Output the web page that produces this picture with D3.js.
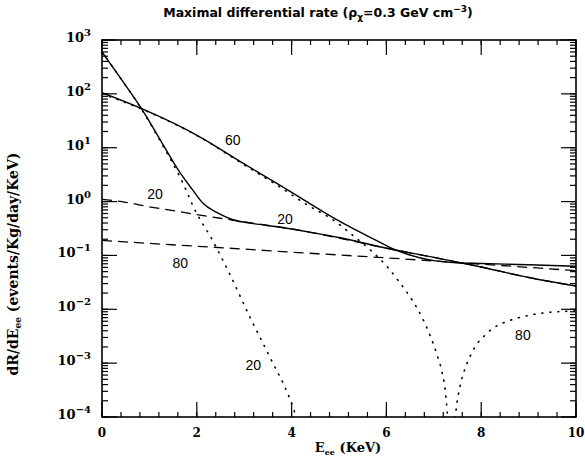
<!DOCTYPE html>
<html>
<head>
<meta charset="utf-8">
<script src="https://cdn.jsdelivr.net/npm/d3@7"></script>
<style>
  body { margin: 0; background: #fff; }
</style>
</head>
<body>
<svg id="chart" width="585" height="459"></svg>
<script>
// [E_ee (keV), dR/dE] pairs
var solid20 = [[0,600],[0.42,180],[0.84,52],[1.25,13],[1.65,3.4],[1.9,1.7],[2.13,0.93],[2.42,0.63],[2.76,0.46],
  [3.2,0.39],[3.69,0.34],[4.5,0.26],[5,0.215],[6,0.136],[7,0.092],[8,0.061],[9,0.039],[10,0.027]];
var dash20 = [[0,1.1],[0.5,0.97],[1,0.8],[1.5,0.68],[2,0.57],[2.5,0.49],[3,0.42],[4,0.31],[5,0.21],
  [6,0.136],[7,0.092],[8,0.061],[9,0.039],[10,0.027]];
var dot20 = [[0,600],[0.42,180],[0.84,51],[1.25,12.3],[1.65,2.8],[2.0,0.6],[2.32,0.2],[2.7,0.044],
  [3.12,0.0072],[3.54,0.0013],[3.97,0.00021],[4.1,0.0001]];

var solid80 = [[0,105],[0.84,53],[2.07,15.8],[3.0,5.0],[3.68,2.2],[4.3,1.02],[4.95,0.46],[5.23,0.34],
  [5.69,0.21],[6.08,0.14],[6.46,0.104],[7,0.08],[7.5,0.073],[8,0.071],[8.5,0.069],[9,0.067],[10,0.063]];
var dash80 = [[0,0.19],[1,0.167],[2,0.148],[3,0.131],[4,0.115],[5,0.102],[6,0.09],[7,0.079],
  [8,0.069],[9,0.06],[10,0.052]];
var dot80 = [[0,100],[0.84,52],[2.07,15.6],[3.0,4.8],[3.68,2.05],[4.3,0.9],[4.95,0.41],[5.23,0.26],
  [5.69,0.12],[6.03,0.06],[6.25,0.034],[6.46,0.019],[6.64,0.0108],[6.78,0.0063],[6.92,0.0033],
  [7.06,0.0015],[7.17,0.0007],[7.24,0.00032],[7.27,0.00017],[7.37,0.00001],[7.47,0.000135],
  [7.55,0.00036],[7.66,0.0008],[7.76,0.0013],[7.9,0.0022],[8.08,0.0033],[8.26,0.0045],[8.47,0.0056],
  [8.75,0.0068],[9.03,0.0078],[9.38,0.0087],[9.73,0.0091],[10,0.0093]];

var xTickLabels = [0, 2, 4, 6, 8, 10];
var yTickExps = [-4, -3, -2, -1, 0, 1, 2, 3];

// curve labels: text, E, rate
var curveLabels = [['60', 2.76, 13.8], ['20', 1.12, 1.38], ['20', 3.86, 0.48],
  ['80', 1.65, 0.072], ['20', 3.19, 0.00093], ['80', 8.88, 0.0033]];

var svg = d3.select('#chart');
var pLeft = 102, pRight = 576, pTop = 40, pBottom = 417;

var x = d3.scaleLinear().domain([0, 10]).range([pLeft, pRight]);
var y = d3.scaleLog().domain([1e-4, 1e3]).range([pBottom, pTop]);

svg.append('clipPath').attr('id', 'plotclip')
  .append('rect')
    .attr('x', pLeft).attr('y', pTop)
    .attr('width', pRight - pLeft).attr('height', pBottom - pTop);

var line = d3.line()
  .x(function(d) { return x(d[0]); })
  .y(function(d) { return y(d[1]); })
  .curve(d3.curveMonotoneX);

var curves = svg.append('g').attr('clip-path', 'url(#plotclip)');

function drawCurve(data, dash, width) {
  curves.append('path')
    .datum(data)
    .attr('d', line)
    .attr('fill', 'none')
    .attr('stroke', '#000')
    .attr('stroke-width', width)
    .attr('stroke-linecap', dash == '1,7' ? 'round' : 'butt')
    .attr('stroke-dasharray', dash);
}

drawCurve(dash20, '10,6', 1.3);
drawCurve(dash80, '10,6', 1.3);
drawCurve(dot20, '1,7', 1.6);
drawCurve(dot80, '1,7', 1.6);
drawCurve(solid20, null, 1.4);
drawCurve(solid80, null, 1.4);

// frame
svg.append('rect')
  .attr('x', pLeft).attr('y', pTop)
  .attr('width', pRight - pLeft).attr('height', pBottom - pTop)
  .attr('fill', 'none').attr('stroke', '#000').attr('stroke-width', 1.6);

// ticks on all four sides
var ticks = svg.append('g').attr('stroke', '#000').attr('stroke-width', 1.2);
var xMinor = d3.range(0, 10.001, 0.4);
var yMinor = y.ticks();

xMinor.forEach(function(v) {
  ticks.append('line').attr('x1', x(v)).attr('x2', x(v)).attr('y1', pBottom).attr('y2', pBottom - 5);
  ticks.append('line').attr('x1', x(v)).attr('x2', x(v)).attr('y1', pTop).attr('y2', pTop + 5);
});
xTickLabels.forEach(function(v) {
  ticks.append('line').attr('x1', x(v)).attr('x2', x(v)).attr('y1', pBottom).attr('y2', pBottom - 15);
  ticks.append('line').attr('x1', x(v)).attr('x2', x(v)).attr('y1', pTop).attr('y2', pTop + 15);
});
yMinor.forEach(function(v) {
  ticks.append('line').attr('x1', pLeft).attr('x2', pLeft + 6).attr('y1', y(v)).attr('y2', y(v));
  ticks.append('line').attr('x1', pRight).attr('x2', pRight - 6).attr('y1', y(v)).attr('y2', y(v));
});
yTickExps.forEach(function(e) {
  var v = Math.pow(10, e);
  ticks.append('line').attr('x1', pLeft).attr('x2', pLeft + 15).attr('y1', y(v)).attr('y2', y(v));
  ticks.append('line').attr('x1', pRight).attr('x2', pRight - 15).attr('y1', y(v)).attr('y2', y(v));
});

var serif = '"DejaVu Serif", serif';

svg.append('g').selectAll('text')
  .data(xTickLabels)
  .enter().append('text')
    .attr('x', function(d) { return x(d); })
    .attr('y', 437)
    .attr('text-anchor', 'middle')
    .style('font', 'bold 12px ' + serif)
    .text(function(d) { return d; });

var yl = svg.append('g').selectAll('text')
  .data(yTickExps)
  .enter().append('text')
    .attr('x', 91)
    .attr('y', function(d) { return y(Math.pow(10, d)) + 2; })
    .attr('text-anchor', 'end')
    .style('font', 'bold 13px ' + serif);
yl.append('tspan').text('10');
yl.append('tspan')
  .attr('dy', -6)
  .style('font-size', '10px')
  .text(function(d) { return d < 0 ? '\u2212' + (-d) : d; });

// curve labels
svg.append('g').selectAll('text')
  .data(curveLabels)
  .enter().append('text')
    .attr('x', function(d) { return x(d[1]); })
    .attr('y', function(d) { return y(d[2]); })
    .attr('text-anchor', 'middle')
    .attr('dominant-baseline', 'central')
    .style('font', '14px "Liberation Sans", Arial, sans-serif')
    .text(function(d) { return d[0]; });

// axis titles
var xt = svg.append('text')
  .attr('x', 348).attr('y', 452)
  .attr('text-anchor', 'middle')
  .style('font', 'bold 13px ' + serif);
xt.append('tspan').text('E');
xt.append('tspan').attr('dy', 3).style('font-size', '8px').text('ee');
xt.append('tspan').attr('dy', -3).text(' (KeV)');

var yt = svg.append('text')
  .attr('transform', 'translate(18,264) rotate(-90)')
  .attr('text-anchor', 'middle')
  .style('font', 'bold 14px ' + serif);
yt.append('tspan').text('dR/dE');
yt.append('tspan').attr('dy', 3).style('font-size', '9px').text('ee');
yt.append('tspan').attr('dy', -3).text(' (events/Kg/day/KeV)');

// title
var tt = svg.append('text')
  .attr('x', 318).attr('y', 17)
  .attr('text-anchor', 'middle')
  .style('font', 'bold 12.5px "DejaVu Sans", sans-serif');
tt.append('tspan').text('Maximal differential rate (\u03c1');
tt.append('tspan').attr('dy', 3).style('font-size', '9px').text('\u03c7');
tt.append('tspan').attr('dy', -3).text('=0.3 GeV cm');
tt.append('tspan').attr('dy', -5).style('font-size', '9px').text('\u22123');
tt.append('tspan').attr('dy', 5).text(')');
</script>
</body>
</html>
